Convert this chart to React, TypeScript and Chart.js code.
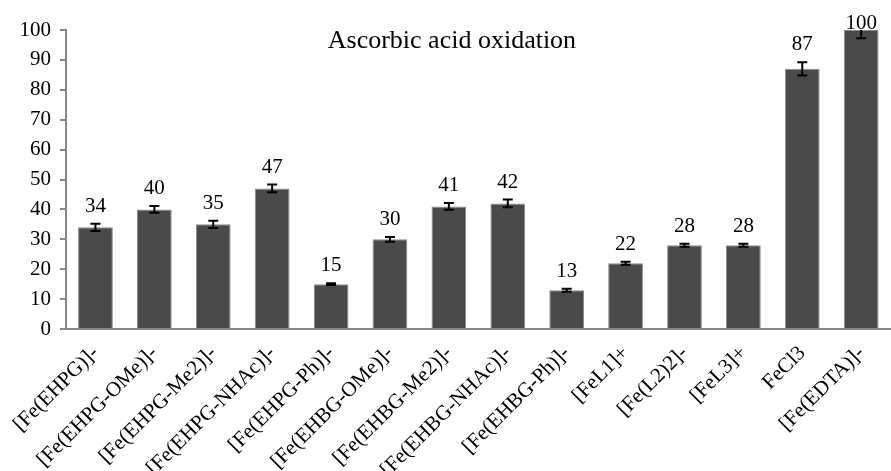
import React, { useEffect, useRef } from "react";
import { Chart, registerables } from "chart.js";

Chart.register(...registerables);

const categories = [
  "[Fe(EHPG)]-",
  "[Fe(EHPG-OMe)]-",
  "[Fe(EHPG-Me2)]-",
  "[Fe(EHPG-NHAc)]-",
  "[Fe(EHPG-Ph)]-",
  "[Fe(EHBG-OMe)]-",
  "[Fe(EHBG-Me2)]-",
  "[Fe(EHBG-NHAc)]-",
  "[Fe(EHBG-Ph)]-",
  "[FeL1]+",
  "[Fe(L2)2]-",
  "[FeL3]+",
  "FeCl3",
  "[Fe(EDTA)]-",
];
const values = [34, 40, 35, 47, 15, 30, 41, 42, 13, 22, 28, 28, 87, 100];
const errors = [1.2, 1.1, 1.2, 1.3, 0.3, 0.8, 1.1, 1.3, 0.5, 0.5, 0.5, 0.5, 2.2, 2.8];
const yTicks = [0, 10, 20, 30, 40, 50, 60, 70, 80, 90, 100];
const titleText = "Ascorbic acid oxidation";

const SERIF = "'Liberation Serif', 'DejaVu Serif', serif";

const errorBarPlugin = {
  id: "errorBars",
  afterDatasetsDraw(chart: any) {
    const { ctx, chartArea } = chart;
    const meta = chart.getDatasetMeta(0);
    const y = chart.scales.y;
    ctx.save();
    ctx.beginPath();
    ctx.rect(chartArea.left, chartArea.top, chartArea.right - chartArea.left, chartArea.bottom - chartArea.top);
    ctx.clip();
    ctx.strokeStyle = "#000";
    ctx.lineWidth = 2;
    meta.data.forEach((bar: any, i: number) => {
      const v = values[i];
      const e = errors[i];
      const yTop = y.getPixelForValue(v + e);
      const yBot = y.getPixelForValue(v - e);
      const x = bar.x;
      const cap = 5;
      ctx.beginPath();
      ctx.moveTo(x, yTop);
      ctx.lineTo(x, yBot);
      ctx.moveTo(x - cap, yTop);
      ctx.lineTo(x + cap, yTop);
      ctx.moveTo(x - cap, yBot);
      ctx.lineTo(x + cap, yBot);
      ctx.stroke();
    });
    ctx.restore();

    ctx.save();
    ctx.fillStyle = "#000";
    ctx.font = `21px ${SERIF}`;
    ctx.textAlign = "center";
    ctx.textBaseline = "alphabetic";
    meta.data.forEach((bar: any, i: number) => {
      const v = values[i];
      const e = errors[i];
      const yTop = y.getPixelForValue(v + e);
      const base = Math.max(yTop - 12, chartArea.top - 1);
      ctx.fillText(String(v), bar.x, base);
    });
    ctx.font = `26px ${SERIF}`;
    ctx.fillText(titleText, chartArea.left + (chartArea.right - chartArea.left) * 0.468, chartArea.top + 18);
    ctx.restore();
  },
};

export default function App() {
  const ref = useRef<HTMLCanvasElement | null>(null);
  useEffect(() => {
    document.body.style.margin = "0";
    if (!ref.current) return;
    const chart = new Chart(ref.current, {
      type: "bar",
      data: {
        labels: categories,
        datasets: [
          {
            data: values,
            backgroundColor: "#4a4a4a",
            borderColor: "#8a8a8a",
            borderWidth: 1,
            barPercentage: 0.59,
            categoryPercentage: 1,
          },
        ],
      },
      options: {
        animation: false,
        responsive: false,
        maintainAspectRatio: false,
        layout: { padding: { top: 30, right: 0, left: 0, bottom: 0 } },
        plugins: { legend: { display: false }, tooltip: { enabled: false }, title: { display: false } },
        scales: {
          x: {
            grid: { display: false, drawTicks: false },
            border: { display: true, color: "#888", width: 2 },
            ticks: {
              color: "#000",
              font: { family: SERIF, size: 21 },
              maxRotation: 45,
              minRotation: 45,
              autoSkip: false,
              padding: 12,
            },
            afterFit(scale: any) {
              scale.height = 142;
            },
          },
          y: {
            min: 0,
            max: 100,
            afterBuildTicks(scale: any) {
              scale.ticks = yTicks.map((v) => ({ value: v }));
            },
            grid: { drawOnChartArea: false, drawTicks: true, tickLength: 6, color: "#888", lineWidth: 2 },
            border: { display: true, color: "#888", width: 2 },
            ticks: { color: "#000", font: { family: SERIF, size: 21 }, padding: 9 },
            afterFit(scale: any) {
              scale.width = 66;
            },
          },
        },
      },
      plugins: [errorBarPlugin],
    } as any);
    return () => chart.destroy();
  }, []);
  return (
    <div style={{ width: 891, height: 471 }}>
      <canvas ref={ref} width={891} height={471} style={{ display: "block" }} />
    </div>
  );
}
